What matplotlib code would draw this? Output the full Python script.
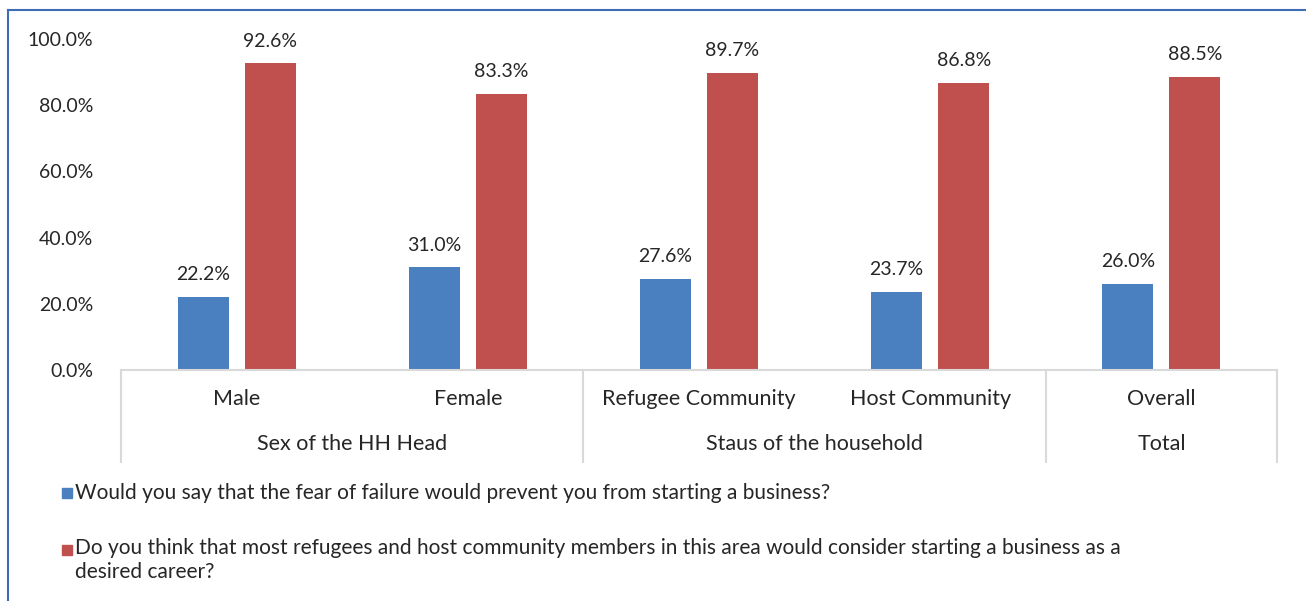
import numpy as np
import matplotlib
matplotlib.use("Agg")
import matplotlib.pyplot as plt
from matplotlib.lines import Line2D
from matplotlib.patches import Rectangle

# data
categories = ["Male", "Female", "Refugee Community", "Host Community", "Overall"]
groups = ["Sex of the HH Head", "Staus of the household", "Total"]
group_spans = [(0, 1), (2, 3), (4, 4)]
fear_failure = [22.2, 31.0, 27.6, 23.7, 26.0]
desired_career = [92.6, 83.3, 89.7, 86.8, 88.5]
series_labels = [
    "Would you say that the fear of failure would prevent you from starting a business?",
    "Do you think that most refugees and host community members in this area would consider starting a business as a\ndesired career?",
]
yticks = [0, 20, 40, 60, 80, 100]

BLUE = "#4A7FC0"
RED = "#C0504D"
GRID = "#D9D9D9"
TXT = "#262626"

plt.rcParams["font.family"] = ["Lato", "DejaVu Sans"]

W, H = 1306, 601
fig = plt.figure(figsize=(W / 100, H / 100), dpi=100)
ax = fig.add_axes([121 / W, 1 - 370 / H, 1156 / W, 331 / H])

x = np.arange(len(categories))
bw = 0.22
off = 0.145
b1 = ax.bar(x - off, fear_failure, bw, color=BLUE)
b2 = ax.bar(x + off, desired_career, bw, color=RED)

for bars, vals in [(b1, fear_failure), (b2, desired_career)]:
    for r, v in zip(bars, vals):
        ax.annotate(f"{v:.1f}%", (r.get_x() + r.get_width() / 2, v),
                    xytext=(0, 10), textcoords="offset points",
                    ha="center", va="bottom", fontsize=14, color=TXT)

ax.set_xlim(-0.5, len(categories) - 0.5)
ax.set_ylim(0, 100)
ax.set_yticks(yticks)
ax.set_yticklabels([f"{t:.1f}%" for t in yticks], fontsize=14, color=TXT)
ax.tick_params(axis="y", length=0, pad=20)
ax.set_xticks([])
for s in ["top", "right", "left"]:
    ax.spines[s].set_visible(False)
ax.spines["bottom"].set_color(GRID)
ax.spines["bottom"].set_linewidth(1.5)

# multi-level category axis
tr = ax.get_xaxis_transform()
y_cat = -(399 - 370) / 331
y_grp = -(444 - 370) / 331
y_end = -(462 - 370) / 331
for xi, c in zip(x, categories):
    ax.text(xi, y_cat, c, transform=tr, ha="center", va="center", fontsize=15.5, color=TXT)
seps = [-0.5] + [b + 0.5 for _, b in group_spans]
for s in seps:
    ax.add_line(Line2D([s, s], [0, y_end], transform=tr, color=GRID, lw=1.5, clip_on=False))
for g, (a, b) in zip(groups, group_spans):
    ax.text((a + b) / 2, y_grp, g, transform=tr, ha="center", va="center", fontsize=15.5, color=TXT)

# legend drawn under the chart
leg_items = [(BLUE, series_labels[0], 493, 493), (RED, series_labels[1], 550, 560)]
for col, lab, ysq, ytxt in leg_items:
    fig.add_artist(Rectangle((62 / W, 1 - (ysq + 5) / H), 10 / W, 10 / H,
                             transform=fig.transFigure, color=col))
    fig.text(75 / W, 1 - ytxt / H, lab, ha="left", va="center", fontsize=15,
             color=TXT, linespacing=1.25)

# frame lines (top and left only visible)
fig.add_artist(Line2D([8 / W, 1], [1 - 10 / H, 1 - 10 / H], transform=fig.transFigure,
                      color="#3E6DB5", lw=1.5))
fig.add_artist(Line2D([8 / W, 8 / W], [0, 1 - 10 / H], transform=fig.transFigure,
                      color="#3E6DB5", lw=1.5))

fig.savefig("out.png", dpi=100)
